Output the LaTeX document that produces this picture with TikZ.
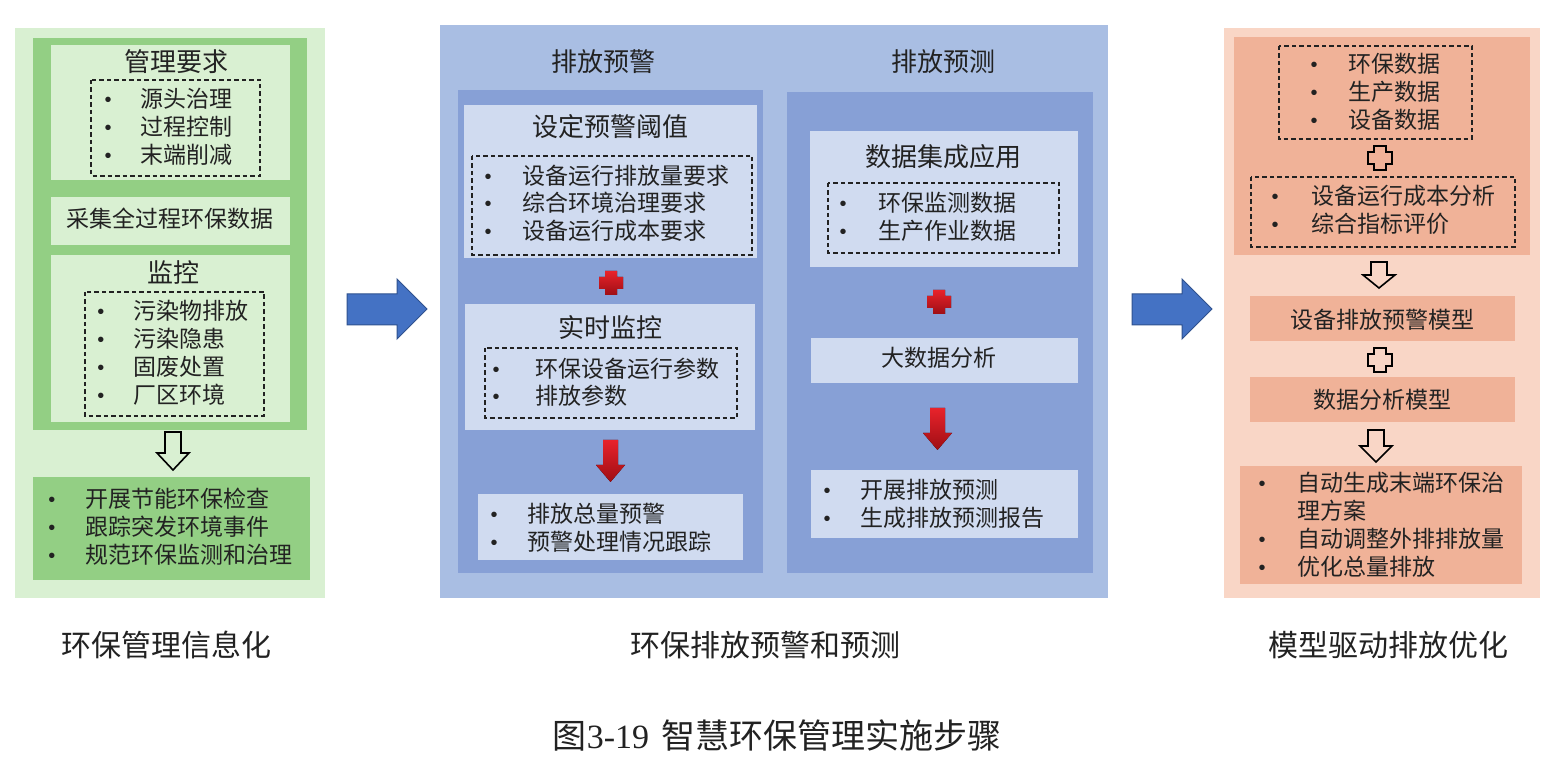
\documentclass[tikz,border=0pt]{standalone}
\usepackage{fontspec}
\setmainfont{Noto Sans CJK SC}
\newfontfamily\serifnum{Liberation Serif}
\newfontfamily\bulfont{Liberation Sans}
\definecolor{lgLight}{HTML}{D9F0D2}
\definecolor{lgMed}{HTML}{93CF84}
\definecolor{mbOuter}{HTML}{A9BEE3}
\definecolor{mbCol}{HTML}{87A0D6}
\definecolor{mbLight}{HTML}{D0DBF0}
\definecolor{rOuter}{HTML}{F9D6C6}
\definecolor{rDark}{HTML}{F0B298}
\definecolor{redA}{HTML}{E8232B}
\definecolor{redB}{HTML}{9E0E14}
\definecolor{barrow}{HTML}{4472C4}
\definecolor{barrowd}{HTML}{2F528F}
\definecolor{ink}{HTML}{222222}
\begin{document}
\begin{tikzpicture}[x=1pt,y=-1pt,
 txt/.style={inner sep=0, font=\fontsize{23}{28}\selectfont, text=ink, anchor=west},
 ctxt/.style={inner sep=0, font=\fontsize{23}{28}\selectfont, text=ink},
 ttl/.style={inner sep=0, font=\fontsize{26}{30}\selectfont, text=ink},
 captxt/.style={inner sep=0, font=\fontsize{30}{34}\selectfont, text=ink},
 bul/.style={inner sep=0, yshift=-3pt, font=\bulfont\fontsize{20}{22}\selectfont, text=ink},
 dbox/.style={draw=ink, line width=1.1pt, dash pattern=on 4.5pt off 3pt},
 hollow/.style={draw=black, line width=1.6pt, line join=miter},
 redfill/.style={top color=redA, bottom color=redB, draw=none},
 bluearrow/.style={fill=barrow, draw=barrowd, line width=1pt, line join=miter}]

\useasboundingbox (0,0) rectangle (1567,783);
\fill[white] (0,0) rectangle (1567,783);

% ---------------- Left panel ----------------
\fill[lgLight] (15,28) rectangle (325,598);
\fill[lgMed] (33,38) rectangle (307,430);
\fill[lgLight] (51,45) rectangle (290,180);
\node[ttl] (gl) at (176,62) {管理要求};
\draw[dbox] (91,80) rectangle (260,176);
\foreach \t/\y [count=\i] in {源头治理/99, 过程控制/127, 末端削减/155}{
  \node[bul] (glb\i) at (108,\y) {•};
  \node[txt] (gli\i) at (140,\y) {\t};}
\fill[lgLight] (51,197) rectangle (290,245);
\node[ctxt] (cj) at (170,219) {采集全过程环保数据};
\fill[lgLight] (51,255) rectangle (290,422);
\node[ttl] (jk) at (173,273) {监控};
\draw[dbox] (85,292) rectangle (264,416);
\foreach \t/\y [count=\i] in {污染物排放/311, 污染隐患/339, 固废处置/367, 厂区环境/395}{
  \node[bul] (jkb\i) at (101,\y) {•};
  \node[txt] (jki\i) at (133,\y) {\t};}
\draw[hollow] (165,432) -- (181,432) -- (181,453) -- (189,453) -- (173,470) -- (157,453) -- (165,453) -- cycle;
\fill[lgMed] (33,477) rectangle (310,580);
\foreach \t/\y [count=\i] in {开展节能环保检查/499, 跟踪突发环境事件/527, 规范环保监测和治理/555}{
  \node[bul] (lbb\i) at (52,\y) {•};
  \node[txt] (lbi\i) at (85,\y) {\t};}
\node[captxt] (capL) at (166,645) {环保管理信息化};

% ---------------- blue arrows ----------------
\draw[bluearrow] (347,294) -- (397,294) -- (397,279) -- (427,309) -- (397,339) -- (397,325) -- (347,325) -- cycle;
\draw[bluearrow] (1132,294) -- (1182,294) -- (1182,279) -- (1212,309) -- (1182,339) -- (1182,325) -- (1132,325) -- cycle;

% ---------------- Middle panel ----------------
\fill[mbOuter] (440,25) rectangle (1108,598);
\node[ttl] (pw) at (603,62) {排放预警};
\node[ttl] (pc) at (943,62) {排放预测};
\fill[mbCol] (458,90) rectangle (763,573);
\fill[mbCol] (787,92) rectangle (1093,573);

\fill[mbLight] (464,105) rectangle (757,258);
\node[ttl] (sd) at (610,127) {设定预警阈值};
\draw[dbox] (472,156) rectangle (752,255);
\foreach \t/\y [count=\i] in {设备运行排放量要求/176, 综合环境治理要求/203, 设备运行成本要求/231}{
  \node[bul] (sdb\i) at (488,\y) {•};
  \node[txt] (sdi\i) at (522,\y) {\t};}
\fill[redfill] (605,271) -- (617,271) -- (617,277) -- (623,277) -- (623,289) -- (617,289) -- (617,295) -- (605,295) -- (605,289) -- (599,289) -- (599,277) -- (605,277) -- cycle;

\fill[mbLight] (465,304) rectangle (755,430);
\node[ttl] (ss) at (610,327) {实时监控};
\draw[dbox] (485,348) rectangle (737,418);
\foreach \t/\y [count=\i] in {环保设备运行参数/369, 排放参数/396}{
  \node[bul] (ssb\i) at (496,\y) {•};
  \node[txt] (ssi\i) at (535,\y) {\t};}
\fill[redfill] (603,440) -- (618,440) -- (618,465) -- (625,465) -- (610.5,482) -- (596,465) -- (603,465) -- cycle;
\fill[mbLight] (478,494) rectangle (743,560);
\foreach \t/\y [count=\i] in {排放总量预警/514, 预警处理情况跟踪/542}{
  \node[bul] (pwb\i) at (494,\y) {•};
  \node[txt] (pwi\i) at (527,\y) {\t};}

\fill[mbLight] (810,131) rectangle (1078,267);
\node[ttl] (sj) at (943,157) {数据集成应用};
\draw[dbox] (828,183) rectangle (1059,253);
\foreach \t/\y [count=\i] in {环保监测数据/203, 生产作业数据/231}{
  \node[bul] (sjb\i) at (843,\y) {•};
  \node[txt] (sji\i) at (878,\y) {\t};}
\fill[redfill] (933,290) -- (945,290) -- (945,296) -- (951,296) -- (951,308) -- (945,308) -- (945,314) -- (933,314) -- (933,308) -- (927,308) -- (927,296) -- (933,296) -- cycle;
\fill[mbLight] (811,338) rectangle (1078,383);
\node[ctxt] (dsj) at (939,358) {大数据分析};
\fill[redfill] (930,408) -- (945,408) -- (945,433) -- (952,433) -- (937.5,450) -- (923,433) -- (930,433) -- cycle;
\fill[mbLight] (811,470) rectangle (1078,538);
\foreach \t/\y [count=\i] in {开展排放预测/490, 生成排放预测报告/518}{
  \node[bul] (pcb\i) at (827,\y) {•};
  \node[txt] (pci\i) at (860,\y) {\t};}
\node[captxt] (capM) at (765,645) {环保排放预警和预测};

% ---------------- Right panel ----------------
\fill[rOuter] (1224,28) rectangle (1540,598);
\fill[rDark] (1234,37) rectangle (1530,255);
\draw[dbox] (1279,46) rectangle (1472,139);
\foreach \t/\y [count=\i] in {环保数据/64, 生产数据/92, 设备数据/120}{
  \node[bul] (rdb\i) at (1314,\y) {•};
  \node[txt] (rdi\i) at (1348,\y) {\t};}
\draw[hollow] (1374,146) -- (1386,146) -- (1386,152) -- (1392,152) -- (1392,164) -- (1386,164) -- (1386,170) -- (1374,170) -- (1374,164) -- (1368,164) -- (1368,152) -- (1374,152) -- cycle;
\draw[dbox] (1251,177) rectangle (1515,247);
\foreach \t/\y [count=\i] in {设备运行成本分析/196, 综合指标评价/224}{
  \node[bul] (rcb\i) at (1275,\y) {•};
  \node[txt] (rci\i) at (1311,\y) {\t};}
\draw[hollow] (1371,262) -- (1387,262) -- (1387,275) -- (1395,275) -- (1379,288) -- (1363,275) -- (1371,275) -- cycle;
\fill[rDark] (1250,296) rectangle (1515,341);
\node[ctxt] (rm1) at (1382,320) {设备排放预警模型};
\draw[hollow] (1374,348) -- (1386,348) -- (1386,354) -- (1392,354) -- (1392,366) -- (1386,366) -- (1386,372) -- (1374,372) -- (1374,366) -- (1368,366) -- (1368,354) -- (1374,354) -- cycle;
\fill[rDark] (1250,377) rectangle (1515,422);
\node[ctxt] (rm2) at (1382,400) {数据分析模型};
\draw[hollow] (1368,430) -- (1384,430) -- (1384,446) -- (1392,446) -- (1376,462) -- (1360,446) -- (1368,446) -- cycle;
\fill[rDark] (1240,466) rectangle (1522,584);
\node[bul] (rbb1) at (1262,483) {•};
\node[txt] (rbi1) at (1297,483) {自动生成末端环保治};
\node[txt] (rbi1b) at (1297,511) {理方案};
\node[bul] (rbb2) at (1262,539) {•};
\node[txt] (rbi2) at (1297,539) {自动调整外排排放量};
\node[bul] (rbb3) at (1262,567) {•};
\node[txt] (rbi3) at (1297,567) {优化总量排放};
\node[captxt] (capR) at (1388,645) {模型驱动排放优化};

% ---------------- Figure caption ----------------
\node[inner sep=0, font=\fontsize{34}{38}\selectfont, text=ink] (fig) at (777,735) {图{\serifnum 3-19}\hspace{12pt}智慧环保管理实施步骤};
\end{tikzpicture}
\end{document}
